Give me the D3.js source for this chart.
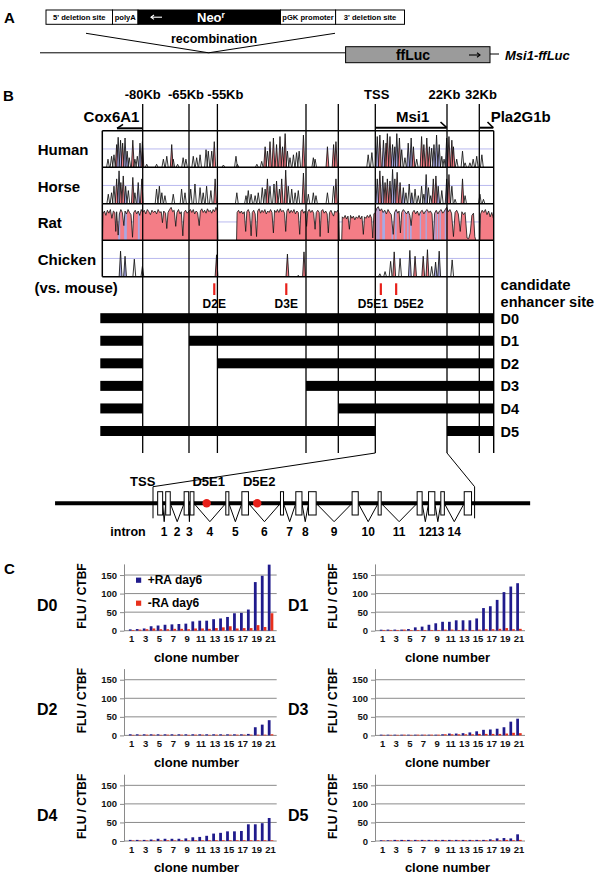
<!DOCTYPE html>
<html><head><meta charset="utf-8">
<script src="https://cdn.jsdelivr.net/npm/d3@7"></script>
<style>
body{margin:0;background:#fff;}
svg{display:block;font-family:"Liberation Sans",Arial,Helvetica,sans-serif;}
</style></head><body>
<svg id="fig" width="600" height="879"></svg>
<script>
// ================= DATA =================
// Panel A: targeting construct
const constructParts = ["5' deletion site","polyA","Neo","pGK promoter","3' deletion site"];
const constructLengths = [66.5,25.5,142.5,55.1,68.9];

// Panel B: genomic region (kb relative to Msi1 TSS)
const trackRangeKb = [-93.5, 36.5];
const boundaryKb = [-80,-65,-55,-24,-13,0,22,32];
const boundaryLabels = ["-80Kb","-65Kb","-55Kb","","","TSS","22Kb","32Kb"];
const species = ["Human","Horse","Rat","Chicken"];
// conservation peaks: [kb, % identity]
const humanPeaks = [[-91.6,61],[-90.4,65],[-89.6,67],[-88.7,81],[-88.2,91],[-87.4,87],[-86.7,83],[-85.9,90],[-85.2,72],[-84.5,63],[-83.3,87],[-82.6,61],[-81.8,65],[-80.9,83],[-80.1,85],
 [-78.7,54],[-75.5,54],[-73.3,61],[-72.2,65],[-70.6,81],[-70.1,61],[-68.7,54],[-66.9,63],[-66.0,61],[-63.5,65],[-62.3,63],[-61.1,67],[-59.0,74],[-58.2,72],[-57.0,72],[-56.1,85],
 [-52.9,53],[-48.5,65],[-48.0,54],
 [-41.2,54],[-39.5,58],[-38.3,78],[-37.5,72],[-36.6,85],[-35.4,90],[-34.3,81],[-33.1,92],[-32.2,78],[-31.3,96],[-30.5,72],[-29.6,63],[-28.4,67],[-27.3,70],[-26.4,72],
 [-24.9,94],[-21.5,63],[-20.9,61],[-16.7,78],[-14.6,81],[-13.8,85],
 [-2.5,67],[-1.2,70],[0.6,92],[1.4,94],[2.5,87],[3.3,83],[3.7,96],[4.5,92],[5.3,81],[6.0,78],[6.6,96],[7.4,90],[8.1,74],[9.1,63],[10.1,83],[11.0,90],[11.7,78],[12.7,61],[14.2,92],[14.9,81],[15.8,90],[16.6,78],[17.3,76],[18.0,81],[18.8,94],[19.6,81],[20.4,65],[21.1,61],[21.9,90],[22.6,92],[23.5,87],[24.0,78],[25.0,61],[26.8,72],[27.6,56],[29.1,56],[30.1,61],[31.2,65],[32.8,67]];
const horsePeaks = [[-91.5,63],[-90.4,65],[-89.6,74],[-88.7,84],[-87.9,95],[-87.3,79],[-86.5,88],[-85.7,74],[-84.8,68],[-83.3,86],[-82.6,65],[-81.5,79],[-80.3,84],
 [-75.5,70],[-74.6,74],[-73.8,65],[-72.8,61],[-70.1,63],[-67.4,70],[-66.3,65],[-64.4,70],[-62.9,77],[-61.1,72],[-60.0,65],[-58.8,74],[-57.3,68],[-55.8,84],
 [-48.2,65],[-45.0,61],[-44.2,68],[-43.2,63],[-41.8,61],[-40.7,65],[-39.3,72],[-38.3,70],[-37.5,84],[-36.6,74],[-35.2,77],[-34.3,81],[-33.3,70],[-32.5,84],[-31.1,96],[-30.2,74],[-29.0,70],[-27.8,65],[-26.7,68],
 [-24.9,92],[-23.2,63],[-21.5,65],[-20.6,61],[-16.7,65],[-14.6,74],[-13.8,84],
 [0.6,84],[1.4,95],[2.3,88],[3.0,79],[3.7,84],[4.5,81],[5.3,97],[6.0,84],[6.7,93],[7.6,79],[8.6,72],[9.4,65],[10.4,77],[11.2,65],[12.2,70],[13.2,61],[14.2,74],[14.9,63],[15.6,90],[16.3,72],[17.0,61],[17.8,84],[18.6,88],[19.3,74],[20.4,68],[21.9,84],[22.6,90],[23.5,74],[24.5,56],[26.8,84],[27.6,61],[32.2,63],[33.3,56]];
const chickenPeaks = [[-87.4,85],[-85.9,78],[-82.8,74],[-80.1,64],[-55.3,80],[-30.5,81],[-26.7,52],[-24.7,84],
 [1.4,54],[3.0,57],[4.7,71],[5.8,84],[7.6,75],[10.6,86],[12.2,78],[14.7,78],[16.0,87],[17.3,64],[18.5,70],[19.6,85],[23.6,73]];
// rat: profile points [kb, % identity]; null = not aligned
const ratProfile = [[-93.4,50],[-93.3,86],[-92.8,90],[-92.3,84],[-91.8,91],[-91.3,87],[-90.8,92],[-90.3,80],[-89.8,90],[-89.3,88],[-89,62],[-88.7,89],[-88.2,57],[-87.8,86],[-87.3,92],[-86.8,88],[-86.3,70],[-85.9,90],[-85.4,86],[-84.9,92],[-84.4,88],[-83.9,85],[-83.4,54],[-83,88],[-82.5,91],[-82,86],[-81.5,90],[-81,84],[-80.5,92],[-80,88],
 [-79.5,91],[-79,86],[-78.5,92],[-78,89],[-77.5,85],[-77,91],[-76.5,88],[-76,90],[-75.5,86],[-75,92],[-74.5,88],[-74,89],[-73.6,74],[-73.2,90],[-72.6,87],[-72.2,66],[-71.8,88],[-71.3,92],[-70.8,95],[-70.3,89],[-69.8,91],[-69.3,69],[-68.9,88],[-68.4,92],[-67.9,86],[-67.5,89],[-67,56],[-66.6,88],[-66.1,91],[-65.6,87],[-65,90],
 [-64.5,92],[-64,88],[-63.5,92],[-63,86],[-62.5,90],[-62,88],[-61.4,70],[-61,90],[-60.5,93],[-60,88],[-59.5,91],[-59,87],[-58.5,93],[-58,89],[-57.5,91],[-57,87],[-56.5,92],[-56,89],[-55.5,95],[-55,90],[-54.8,50],
 null,
 [-48.3,50],[-48.1,88],[-47.6,91],[-47.1,87],[-46.6,90],[-46.1,86],[-45.6,89],[-45.1,62],[-44.7,89],[-44.2,92],[-43.7,87],[-43.2,56],[-42.8,88],[-42.3,91],[-41.8,86],[-41.3,55],[-40.9,90],[-40.4,93],[-39.9,87],[-39.4,91],[-38.9,88],[-38.4,92],[-37.9,86],[-37.4,90],[-36.9,88],[-36.4,92],[-35.9,88],[-35.4,60],[-35,91],[-34.5,88],[-34,92],[-33.5,88],[-33,93],[-32.5,89],[-32,91],[-31.5,87],[-31.1,62],[-30.7,90],[-30.2,93],[-29.7,87],[-29.2,91],[-28.7,88],[-28.2,92],[-27.7,86],[-27.2,90],[-26.7,88],[-26.2,58],[-25.8,90],[-25.3,92],[-24.8,87],[-24.3,90],
 [-23.8,69],[-23.4,89],[-22.9,92],[-22.4,88],[-21.9,91],[-21.4,87],[-20.9,65],[-20.5,88],[-20,91],[-19.5,88],[-19.2,55],[-18.8,90],[-18.3,92],[-17.8,87],[-17.3,90],[-16.8,86],[-16.4,60],[-16,88],[-15.5,91],[-15,86],[-14.6,83],[-14.2,90],[-13.7,88],[-13.2,91],[-12.8,87],[-12.6,50],
 null,
 [-11.8,50],[-11.6,82],[-11.1,80],[-10.6,84],[-10.1,79],[-9.6,83],[-9.1,65],[-8.7,84],[-8.2,80],[-7.7,83],[-7.2,78],[-6.7,82],[-6.2,80],[-5.7,84],[-5.2,79],[-4.7,83],[-4.2,58],[-3.8,82],[-3.3,80],[-2.8,84],[-2.3,81],[-1.8,85],[-1.3,80],[-0.9,53],[-0.5,86],
 [0,88],[0.5,94],[0.9,96],[1.4,90],[1.9,93],[2.4,88],[2.9,91],[3.4,86],[3.9,92],[4.4,88],[4.9,85],[5.5,58],[5.9,88],[6.4,92],[6.9,87],[7.3,90],[7.7,60],[8.1,88],[8.6,92],[9.1,89],[9.6,86],[10.1,90],[10.6,84],[11,70],[11.4,88],[11.9,91],[12.4,86],[12.9,90],[13.4,84],[13.9,89],[14.4,91],[14.9,86],[15.4,90],[15.9,92],[16.4,88],[16.9,90],[17.4,86],[17.8,50],[18.2,87],[18.7,91],[19.2,86],[19.7,90],[20.2,92],[20.7,87],[21.2,90],[21.6,93],[21.9,95],
 [22.4,89],[22.9,92],[23.4,87],[24,55],[24.5,88],[25,91],[25.5,86],[26.1,62],[26.6,89],[27.1,85],[27.6,88],[28.2,53],[28.7,52],[29.2,60],[29.7,84],[30.2,87],[30.6,55],[30.9,50],
 null,
 [32.2,50],[32.4,86],[32.9,91],[33.4,88],[33.9,92],[34.4,85],[34.9,90],[35.4,82],[35.9,88],[36.4,80]];
const coxExonsKb = [[-88.2,-87.5],[-86.2,-85.3],[-81.6,-81.0]];
const msi1ExonsKb = [[0.32,0.66],[0.87,1.18],[2.13,2.44],[2.54,2.80],[4.98,5.19],[6.08,6.53],[8.72,8.93],[9.77,10.19],[10.64,11.16],[13.62,14.04],[15.40,15.61],[18.07,18.41],[18.85,19.28],[19.69,19.93],[21.29,21.79]];
const enhancerNames = ["D2E","D3E","D5E1","D5E2"];
const enhancerKb = [-56.1,-30.9,1.7,6.4];
const deletionNames = ["D0","D1","D2","D3","D4","D5"];
const deletionFromKb = [null,-80,-80,-80,-80,0];
const deletionToKb = [null,-65,-55,-24,-13,22];
// Msi1 gene schematic
const geneLineKb = [-6.7, 25.8];
const geneEnhancerNames = ["D5E1","D5E2"];
const geneEnhancerKb = [3.67, 7.13];
const intronNumbers = [1,2,3,4,5,6,7,8,9,10,11,12,13,14];

// Panel C: FLU / CTBF per clone
const clones = [1,2,3,4,5,6,7,8,9,10,11,12,13,14,15,16,17,18,19,20,21];
const cloneTickLabels = [1,3,5,7,9,11,13,15,17,19,21];
const yTicks = [0,50,100,150];
const seriesNames = ["+RA day6","-RA day6"];
const d0Plus  = [3.6,4.5,6,12,14,16,17,18,19,25,27,27,31,33,37,47,48,57,131,148,178];
const d0Minus = [2,3,4,6,4,4,5,5,4,6,6,5,7,9,12,6,7,7,15,10,47];
const d1Plus  = [2.7,3,3,3,4.5,9,11,16,20,24,24,28,28,28,33,61,66,83,104,119,128];
const d1Minus = [2,2,2,3,2,2,2,2,2,3,3,2,3,2,3,4,4,5,7,4,5];
const d2Plus  = [3,3,3,3,3,3,3,3,3,3,3,3,3,3,3,3,3,4,22,29,41];
const d2Minus = [1.5,1.5,2,2,1.5,2,1.5,2,1.5,2,2,1.5,2,1.5,2,2,2,2,2,2,3];
const d3Plus  = [2,2,2,2,2,2,2,2,2,3,5,5,6,8,11,15,16,18,22,37,45];
const d3Minus = [1.5,1.5,1.5,2,1.5,2,2,2,2,3,3,3,3,3,4,4,4,4,5,7,6];
const d4Plus  = [3,3,3,4,6,6,6,6,7,10,11,14,20,22,26,26,27,45,45,48,62];
const d4Minus = [1.5,1.5,1.5,1.5,1.5,2,1.5,2,1.5,2,2,2,2,2,2,2,2,2,2,2,2];
const d5Plus  = [2,2,3,3,3,3,3,3,3,3,3,3,3,3,3,3,4.5,7,8,7,18];
const d5Minus = [1.5,1.5,2,2,1.5,2,2,2,2,2,2,2,2,2,2,2,2,2,3,2,3];

// ================= DRAWING =================
const svg = d3.select("#fig");
const PINK = "#f47d86", LAV = "#a9a9e3", GRIDLAV = "#b9b9ef";
const BLUE = "#201b8c", RED = "#e8301c", GRAY = "#8a8a8a";

function txt(g, x, y, s, size, o = {}) {
  return g.append("text").attr("x", x).attr("y", y).attr("font-size", size)
    .attr("font-weight", o.weight || "bold").attr("text-anchor", o.anchor || "start")
    .attr("dominant-baseline", "central").attr("fill", o.fill || "#000")
    .attr("font-style", o.style || "normal").text(s);
}
function seg(g, x1, y1, x2, y2, w = 1, c = "#000") {
  return g.append("line").attr("x1", x1).attr("y1", y1).attr("x2", x2).attr("y2", y2)
    .attr("stroke", c).attr("stroke-width", w);
}

// ---------- Panel A ----------
const A = svg.append("g");
txt(A, 4, 17, "A", 15);
const partX = d3.scaleLinear().domain([0, d3.sum(constructLengths)]).range([46, 404.5]);
let acc = 0;
constructParts.forEach((p, i) => {
  const x0 = partX(acc), x1 = partX(acc + constructLengths[i]);
  acc += constructLengths[i];
  A.append("rect").attr("x", x0).attr("y", 10).attr("width", x1 - x0).attr("height", 14.3)
    .attr("fill", p === "Neo" ? "#000" : "#fff").attr("stroke", "#000").attr("stroke-width", 1);
  if (p === "Neo") {
    seg(A, x0 + 13, 17.2, x0 + 24, 17.2, 1.1, "#fff");
    A.append("path").attr("d", `M${x0 + 16},${15} L${x0 + 13},${17.2} L${x0 + 16},${19.4}`)
      .attr("fill", "none").attr("stroke", "#fff").attr("stroke-width", 1.1);
    const t = A.append("text").attr("x", x0 + 59).attr("y", 22).attr("font-size", 13)
      .attr("font-weight", "bold").attr("fill", "#fff");
    t.append("tspan").text("Neo");
    t.append("tspan").attr("dy", -4.5).attr("font-size", 8.5).text("r");
  } else {
    txt(A, (x0 + x1) / 2, 17.2, p, 7.6, { anchor: "middle" });
  }
});
A.append("path").attr("d", "M86,33.3 L208.6,52.8 L335,33.3").attr("fill", "none").attr("stroke", "#000").attr("stroke-width", 1);
txt(A, 214, 38.5, "recombination", 12.5, { anchor: "middle" });
seg(A, 40, 52.8, 345.6, 52.8, 1);
A.append("rect").attr("x", 345.6).attr("y", 46.7).attr("width", 144.4).attr("height", 16)
  .attr("fill", "#9b9b9b").attr("stroke", "#000").attr("stroke-width", 1);
txt(A, 413, 54.7, "ffLuc", 14, { anchor: "middle" });
seg(A, 469, 55, 480, 55, 1.1);
A.append("path").attr("d", "M477,52.8 L480,55 L477,57.2").attr("fill", "none").attr("stroke", "#000").attr("stroke-width", 1.1);
seg(A, 490, 54, 499, 54, 1);
txt(A, 505, 55, "Msi1-ffLuc", 13, { style: "italic" });

// ---------- Panel B ----------
const B = svg.append("g");
txt(B, 3, 95, "B", 15);
const boundaryPx = [102.3, 142.7, 189, 217.4, 306, 338.3, 375.3, 447, 479.3, 493.7];
const xg = d3.scaleLinear().domain([trackRangeKb[0], ...boundaryKb, trackRangeKb[1]]).range(boundaryPx);
const trackTop = 130.7, rowH = 36.5, trackBottom = trackTop + 4 * rowH;
const trackL = xg(trackRangeKb[0]), trackR = xg(trackRangeKb[1]);
const lineTop = 104, lineBottom = 453;

const defs = svg.append("defs");
defs.append("clipPath").attr("id", "trackClip").append("rect")
  .attr("x", trackL).attr("y", trackTop).attr("width", trackR - trackL).attr("height", trackBottom - trackTop);
const allExons = coxExonsKb.concat(msi1ExonsKb);
const exClip = defs.append("clipPath").attr("id", "exonClip");
allExons.forEach(e => {
  const w = Math.max(1.4, xg(e[1]) - xg(e[0]));
  exClip.append("rect").attr("x", xg(e[0])).attr("y", trackTop).attr("width", w).attr("height", trackBottom - trackTop);
});
const isExon = kb => allExons.some(e => kb >= e[0] - 0.15 && kb <= e[1] + 0.15);

const T = B.append("g").attr("clip-path", "url(#trackClip)");
const rowScales = species.map((s, r) => d3.scaleLinear().domain([50, 100]).range([trackTop + (r + 1) * rowH, trackTop + r * rowH]));
rowScales.forEach(ys => seg(T, trackL, ys(75), trackR, ys(75), 1, GRIDLAV));

const spikeData = { Human: humanPeaks, Horse: horsePeaks, Chicken: chickenPeaks };
const lineGen = d3.line();
species.forEach((s, r) => {
  const ys = rowScales[r];
  if (s === "Rat") {
    const area = d3.area().defined(d => d != null).x(d => xg(d[0])).y0(ys(50)).y1(d => ys(d[1]));
    const ln = d3.line().defined(d => d != null).x(d => xg(d[0])).y(d => ys(d[1]));
    T.append("path").attr("d", area(ratProfile)).attr("fill", PINK);
    T.append("path").attr("d", area(ratProfile)).attr("fill", LAV).attr("clip-path", "url(#exonClip)");
    T.append("path").attr("d", ln(ratProfile)).attr("fill", "none").attr("stroke", "#111").attr("stroke-width", 0.8);
  } else {
    spikeData[s].forEach(p => {
      const x = xg(p[0]);
      const fill = isExon(p[0]) ? LAV : (p[1] >= 78 ? PINK : "none");
      T.append("path").attr("d", lineGen([[x - 1.4, ys(50)], [x, ys(p[1])], [x + 1.4, ys(50)]]))
        .attr("fill", fill).attr("stroke", "#111").attr("stroke-width", 0.85);
    });
  }
});
for (let r = 0; r <= 4; r++) seg(B, trackL, trackTop + r * rowH, trackR, trackTop + r * rowH, 1.5);
seg(B, trackL, trackTop, trackL, trackBottom, 1.5);
seg(B, trackR, trackTop, trackR, lineBottom, 1.4);
species.forEach((s, r) => txt(B, 37.7, trackTop + (r + 0.5) * rowH + 1, s, 15));
txt(B, 34.4, 287.3, "(vs. mouse)", 15);

const labelDx = [0, -3, 8, 0, 0, 1.4, -2.5, 1.7];
boundaryKb.forEach((kb, i) => {
  seg(B, xg(kb), lineTop, xg(kb), lineBottom, 1.3);
  if (boundaryLabels[i]) txt(B, xg(kb) + labelDx[i], 94, boundaryLabels[i], 13, { anchor: "middle" });
});

txt(B, 111.5, 116, "Cox6A1", 15, { anchor: "middle" });
seg(B, 117, 128.3, xg(-80), 128.3, 2);
seg(B, 117, 128.3, 123, 124.3, 1.6);
txt(B, 412.7, 116, "Msi1", 15, { anchor: "middle" });
seg(B, xg(0), 127.7, 446.7, 127.7, 2);
seg(B, 446.7, 127.7, 440.5, 122, 1.6);
txt(B, 490.7, 116.7, "Pla2G1b", 15);
seg(B, xg(32), 127.7, 493.3, 127.7, 2);
seg(B, 493.3, 127.7, 487.5, 122, 1.6);

const enhDx = [0, 0, -8, 12.5];
enhancerKb.forEach((kb, i) => {
  seg(B, xg(kb), 283.3, xg(kb), 295, 2.2, "#e8201a");
  txt(B, xg(kb) + enhDx[i], 303.5, enhancerNames[i], 12, { anchor: "middle" });
});
txt(B, 500.6, 284.5, "candidate", 15);
txt(B, 500.6, 302, "enhancer site", 14.5);

const barY = d3.scalePoint().domain(deletionNames).range([318.2, 431]);
const barL = trackL - 2, barR = trackR + 0.3;
deletionNames.forEach((d, i) => {
  const y = barY(d);
  const segs = deletionFromKb[i] == null ? [[barL, barR]] : [[barL, xg(deletionFromKb[i])], [xg(deletionToKb[i]), barR]];
  segs.forEach(sg => B.append("rect").attr("x", sg[0]).attr("y", y - 5).attr("width", sg[1] - sg[0]).attr("height", 10).attr("fill", "#000"));
  txt(B, 500.6, y + 0.5, d, 14.5);
});

// ---- Msi1 gene schematic ----
const xe = d3.scaleLinear().domain([0, 22]).range([153, 474.6]);
const gY = 503.3, exTop = 491.7, exH = 23.3, apexY = 521.7;
seg(B, xg(0), lineBottom, xe(0), 486.7, 1);
seg(B, xg(22), lineBottom, xe(22), 486.7, 1);
seg(B, xe(0), 486.7, xe(0), 518.3, 1);
seg(B, xe(22), 486.7, xe(22), 518.3, 1);
txt(B, xe(0) - 10.3, 481.7, "TSS", 13, { anchor: "middle" });
seg(B, xe(geneLineKb[0]), gY, xe(geneLineKb[1]), gY, 4);
intronNumbers.forEach((n, i) => {
  const a = xe(msi1ExonsKb[i][1]), b = xe(msi1ExonsKb[i + 1][0]), m = (a + b) / 2;
  B.append("path").attr("d", lineGen([[a, gY], [m, apexY], [b, gY]])).attr("fill", "none").attr("stroke", "#000").attr("stroke-width", 1);
  txt(B, m, 531.7, String(n), 12, { anchor: "middle" });
});
txt(B, 128, 531.7, "intron", 12.5, { anchor: "middle" });
msi1ExonsKb.forEach(e => {
  B.append("rect").attr("x", xe(e[0])).attr("y", exTop).attr("width", Math.max(3, xe(e[1]) - xe(e[0])))
    .attr("height", exH).attr("fill", "#fff").attr("stroke", "#000").attr("stroke-width", 1);
});
geneEnhancerKb.forEach((kb, i) => {
  B.append("circle").attr("cx", xe(kb)).attr("cy", gY).attr("r", 4.2).attr("fill", "#e8201a");
  txt(B, xe(kb) + 2, 481.7, geneEnhancerNames[i], 13, { anchor: "middle" });
});

// ---------- Panel C ----------
const C = svg.append("g");
txt(C, 4, 568.5, "C", 15);
const charts = [
  { name: "D0", plus: d0Plus, minus: d0Minus, col: 0, row: 0, legend: true },
  { name: "D1", plus: d1Plus, minus: d1Minus, col: 1, row: 0 },
  { name: "D2", plus: d2Plus, minus: d2Minus, col: 0, row: 1 },
  { name: "D3", plus: d3Plus, minus: d3Minus, col: 1, row: 1 },
  { name: "D4", plus: d4Plus, minus: d4Minus, col: 0, row: 2 },
  { name: "D5", plus: d5Plus, minus: d5Minus, col: 1, row: 2 }
];
const colX0 = [124, 375], colW = [152.7, 150], rowY0 = [630.7, 735.4, 841];
charts.forEach(ch => {
  const x0 = colX0[ch.col], w = colW[ch.col], y0 = rowY0[ch.row];
  const g = C.append("g");
  const y = d3.scaleLinear().domain([0, 180]).range([y0, y0 - 66.8]);
  const xb = d3.scaleBand().domain(clones).range([x0 + 0.032 * w, x0 + 0.978 * w]).paddingInner(0.2).paddingOuter(0);
  const xs = d3.scaleBand().domain(seriesNames).range([0, xb.bandwidth()]);
  yTicks.forEach(t => seg(g, x0, y(t), x0 + w, y(t), 1, GRAY));
  clones.forEach((c, i) => {
    g.append("rect").attr("x", xb(c) + xs(seriesNames[0])).attr("y", y(ch.plus[i]))
      .attr("width", xs.bandwidth()).attr("height", y(0) - y(ch.plus[i])).attr("fill", BLUE);
    g.append("rect").attr("x", xb(c) + xs(seriesNames[1])).attr("y", y(ch.minus[i]))
      .attr("width", xs.bandwidth()).attr("height", y(0) - y(ch.minus[i])).attr("fill", RED);
  });
  const ya = g.append("g").attr("transform", `translate(${x0},0)`)
    .call(d3.axisLeft(y).tickValues(yTicks).tickSize(4).tickSizeOuter(0).tickPadding(3));
  ya.select(".domain").attr("stroke", GRAY);
  ya.selectAll(".tick line").attr("stroke", GRAY);
  ya.selectAll("text").attr("font-size", 9.5).attr("font-weight", "bold").attr("fill", "#111")
    .attr("font-family", "Liberation Sans, Arial, sans-serif");
  const xa = g.append("g").attr("transform", `translate(0,${y0})`)
    .call(d3.axisBottom(xb).tickValues(cloneTickLabels).tickSize(0).tickPadding(5));
  xa.select(".domain").remove();
  xa.selectAll("text").attr("font-size", 9.5).attr("font-weight", "bold").attr("fill", "#111")
    .attr("font-family", "Liberation Sans, Arial, sans-serif");
  txt(g, x0 + 72.5, y0 + 26.6, "clone number", 13, { anchor: "middle" });
  g.append("text").attr("transform", `translate(${x0 - 41.7},${y0 - 34.7}) rotate(-90)`)
    .attr("text-anchor", "middle").attr("dominant-baseline", "central")
    .attr("font-size", 12).attr("font-weight", "bold").text("FLU / CTBF");
  txt(g, x0 - 76.7, y0 - 25.7, ch.name, 16, { anchor: "middle" });
  if (ch.legend) {
    const lg = [[BLUE, seriesNames[0], -50.5], [RED, seriesNames[1], -27.5]];
    lg.forEach(l => {
      g.append("rect").attr("x", x0 + 12).attr("y", y0 + l[2] - 2.6).attr("width", 5.2).attr("height", 5.2).attr("fill", l[0]);
      txt(g, x0 + 23.7, y0 + l[2], l[1], 12);
    });
  }
});
</script>
</body></html>
